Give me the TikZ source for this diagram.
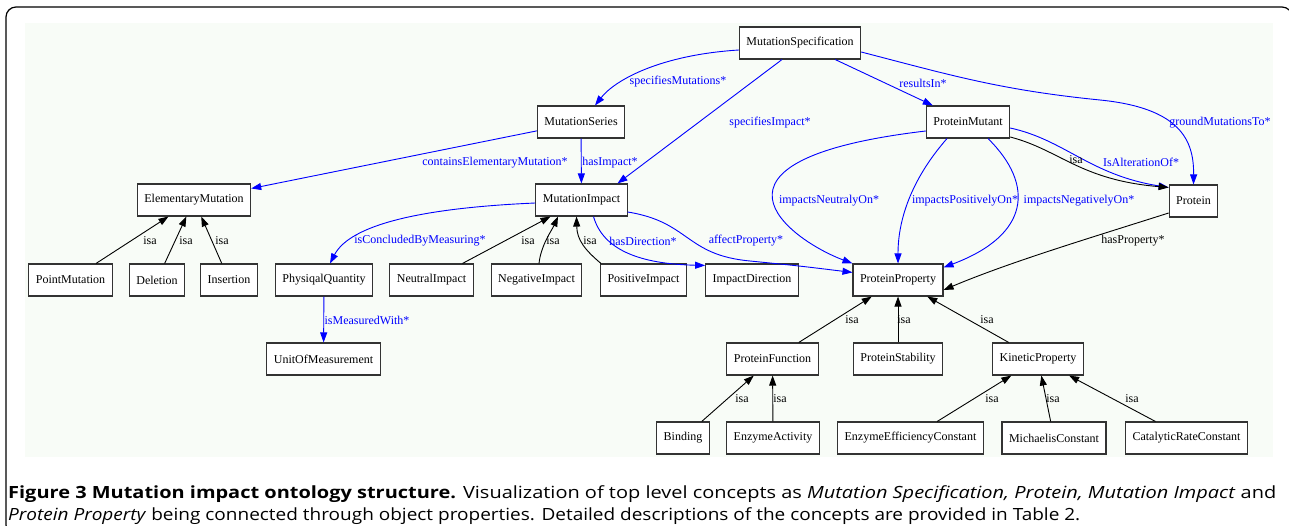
\documentclass[tikz,border=0pt]{standalone}
\usepackage{fontspec}
\setmainfont{Liberation Serif}
\newfontfamily\captionfont{Open Sans}
\usetikzlibrary{arrows.meta}
\definecolor{relblue}{RGB}{0,0,255}
\definecolor{panelbg}{RGB}{248,252,247}

\begin{document}
\begin{tikzpicture}
  [
    x=1pt, y=-1pt,
    concept/.style={draw=black!80, fill=white, line width=1.1pt, minimum height=32pt, inner xsep=7pt, font=\fontsize{12}{14}\selectfont},
    rel/.style={relblue, line width=0.9pt, -{Triangle[length=10pt,width=7pt]}},
    isa/.style={black, line width=0.9pt, -{Triangle[length=10pt,width=7pt]}},
    rel label/.style={text=relblue, inner sep=1pt, font=\fontsize{12}{14}\selectfont},
    isa label/.style={rel label, text=black},
    caption line/.style={anchor=base west, inner sep=0pt, font=\captionfont\fontsize{16.8}{19}\selectfont}
  ]
  \useasboundingbox (0,0) rectangle (1289,526);
  \clip (0,0) rectangle (1289,526);
  \draw [line width=1.2pt, rounded corners=10pt] (6,7) rectangle (1292,535);
  \fill [panelbg] (25,23) rectangle (1273,457);

  % concepts
  \node (spec) [concept] at (800,43) {MutationSpecification};
  \node (series) [concept] at (581,122) {MutationSeries};
  \node (mutant) [concept] at (968,122) {ProteinMutant};
  \node (elem) [concept] at (194,200) {ElementaryMutation};
  \node (impact) [concept] at (581.5,200) {MutationImpact};
  \node (protein) [concept] at (1193.5,201) {Protein};
  \node (point) [concept] at (70.5,280) {PointMutation};
  \node (deletion) [concept] at (157,280) {Deletion};
  \node (insertion) [concept] at (229,280) {Insertion};
  \node (quantity) [concept] at (324,280) {PhysiqalQuantity};
  \node (neutral) [concept] at (431.5,280) {NeutralImpact};
  \node (negative) [concept] at (536.5,280) {NegativeImpact};
  \node (positive) [concept] at (643.5,280) {PositiveImpact};
  \node (direction) [concept] at (752,280) {ImpactDirection};
  \node (property) [concept] at (898,280) {ProteinProperty};
  \node (unit) [concept] at (323.5,359) {UnitOfMeasurement};
  \node (function) [concept] at (772.5,359) {ProteinFunction};
  \node (stability) [concept] at (898,359) {ProteinStability};
  \node (kinetic) [concept] at (1038,359) {KineticProperty};
  \node (binding) [concept] at (683,438) {Binding};
  \node (activity) [concept] at (773,438) {EnzymeActivity};
  \node (efficiency) [concept] at (910.5,438) {EnzymeEfficiencyConstant};
  \node (michaelis) [concept] at (1054,438) {MichaelisConstant};
  \node (catalytic) [concept] at (1186.5,438) {CatalyticRateConstant};

  % object properties
  \draw [rel] ([yshift=-7pt]spec.west) .. controls (660,55) and (615,80) .. ([xshift=14pt]series.north);
  \draw [rel] ([xshift=-18pt]spec.south) -- ([xshift=36pt]impact.north);
  \draw [rel] (spec) -- (mutant);
  \draw [rel] ([yshift=-9pt]spec.east) .. controls (950,75) and (1000,90) .. (1100,100) .. controls (1180,108) and (1194,140) .. (protein.north);
  \draw [rel] (series) -- (elem);
  \draw [rel] (series) -- (impact);
  \draw [rel] ([yshift=-3pt]impact.west) .. controls (420,208) and (350,225) .. ([xshift=6pt]quantity.north);
  \draw [rel] ([xshift=12pt]impact.south) .. controls (603,250) and (640,264) .. ([yshift=-2pt]direction.north west);
  \draw [rel] ([yshift=-12pt]impact.east) .. controls (690,222) and (685,255) .. (750,261) .. controls (800,266) .. ([yshift=-9pt]property.north west);
  \draw [rel] ([yshift=-9pt]mutant.west) .. controls (680,160) and (790,240) .. (property.north west);
  \draw [rel] ([xshift=-21pt]mutant.south) .. controls (915,175) and (898,215) .. (property.north);
  \draw [rel] ([xshift=20pt]mutant.south) .. controls (1035,185) and (1030,235) .. ([yshift=-4pt]property.north east);
  \draw [rel] ([yshift=-6pt]mutant.east) .. controls (1065,140) and (1090,175) .. ([yshift=-3pt]protein.north west);
  \draw [rel] (quantity) -- (unit);

  % isa links
  \draw [isa] ([yshift=-15pt]mutant.east) .. controls (1060,150) and (1080,180) .. ([yshift=-3pt]protein.north west);
  \draw [isa] ([yshift=-12pt]protein.west) .. controls (1090,238) and (1010,262) .. ([yshift=-10pt]property.east);
  \draw [isa] ([xshift=2.5pt]negative.north) .. controls (541,245) and (552,230) .. ([xshift=-23.5pt]impact.south);
  \draw [isa] ([xshift=1pt]positive.north west) .. controls (585,250) and (577,240) .. ([xshift=-5pt]impact.south);
  \foreach \i/\j in {point/elem, deletion/elem, insertion/elem, neutral/impact, function/property, stability/property, kinetic/property, binding/function, activity/function, efficiency/kinetic, michaelis/kinetic, catalytic/kinetic}
    \draw [isa] (\i) -- (\j);

  % labels
  \node (lSpecMut) [rel label] at (678,82) {specifiesMutations*};
  \node (lSpecImp) [rel label] at (770,123) {specifiesImpact*};
  \node (lResults) [rel label] at (923,83) {resultsIn*};
  \node (lGround) [rel label] at (1220,123) {groundMutationsTo*};
  \node (lContains) [rel label] at (495,163) {containsElementaryMutation*};
  \node (lHasImp) [rel label] at (610,163) {hasImpact*};
  \node (lConcluded) [rel label] at (420,241) {isConcludedByMeasuring*};
  \node (lDirection) [rel label] at (643,241) {hasDirection*};
  \node (lAffect) [rel label] at (746,241) {affectProperty*};
  \node (lNeutral) [rel label] at (829,201) {impactsNeutralyOn*};
  \node (lPositive) [rel label] at (965,201) {impactsPositivelyOn*};
  \node (lNegative) [rel label] at (1079,201) {impactsNegativelyOn*};
  \node (lAlter) [rel label] at (1141,162) {IsAlterationOf*};
  \node (lMeasured) [rel label] at (367,320) {isMeasuredWith*};
  \node (lHasProp) [isa label] at (1133,241) {hasProperty*};
  \foreach \n/\x/\y in {a/150/241, b/186/241, c/222/241, d/528/241, e/553/241, f/590/241, g/1076/160, h/852/320, k/904/320, m/987/320, n/742/399, p/780/399, q/992/399, r/1053/399, s/1132/399}
    \node (isa\n) [isa label] at (\x,\y) {isa};

  % caption
  \node (cap1) [caption line] at (8,498) {\resizebox{1268pt}{\height}{\textbf{Figure 3 Mutation impact ontology structure.} Visualization of top level concepts as \textit{Mutation Specification, Protein, Mutation Impact} and}};
  \node (cap2) [caption line] at (8,520) {\resizebox{1072pt}{\height}{\textit{Protein Property} being connected through object properties. Detailed descriptions of the concepts are provided in Table 2.}};
\end{tikzpicture}
\end{document}
